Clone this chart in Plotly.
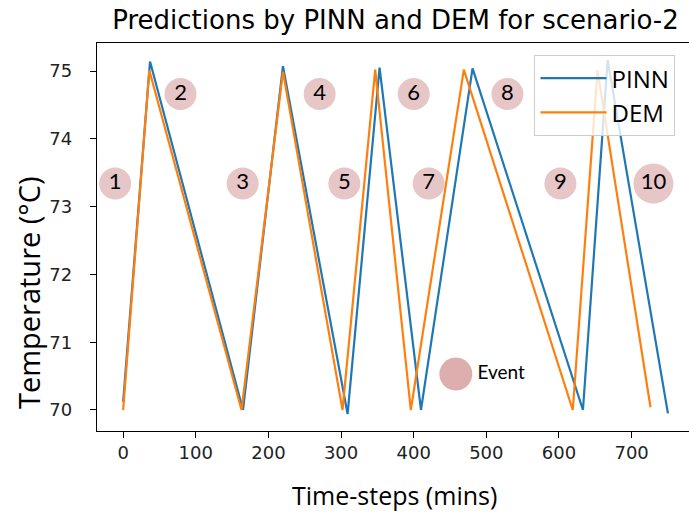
import plotly.graph_objects as go

# ---- data ----
pinn_t = [0, 37, 165, 220, 309, 353, 410, 481, 633, 667, 750]
pinn_temp = [70.12, 75.14, 70.0, 75.07, 69.94, 75.05, 70.0, 75.04, 70.0, 75.16, 69.95]

dem_t = [0, 36, 163, 220, 302, 347, 396, 469, 619, 653, 726]
dem_temp = [70.0, 75.01, 70.0, 74.99, 70.0, 75.02, 70.0, 75.02, 70.0, 75.01, 70.04]

event_t = [-11, 79, 164.5, 270.5, 304.5, 400, 420.6, 529, 602, 730]
event_temp = [73.34, 74.66, 73.34, 74.66, 73.34, 74.66, 73.34, 74.66, 73.34, 73.34]
event_labels = ["1", "2", "3", "4", "5", "6", "7", "8", "9", "10"]

event_key_t = [458]
event_key_temp = [70.53]
event_key_label = ["Event"]

x_ticks = [0, 100, 200, 300, 400, 500, 600, 700]
y_ticks = [70, 71, 72, 73, 74, 75]

BLUE = "#1f77b4"
ORANGE = "#ff7f0e"
EVENT_COLOR = "rgb(220,174,174)"

fig = go.Figure()

fig.add_trace(go.Scatter(x=pinn_t, y=pinn_temp, mode="lines", name="PINN",
                         line=dict(color=BLUE, width=2.2)))
fig.add_trace(go.Scatter(x=dem_t, y=dem_temp, mode="lines", name="DEM",
                         line=dict(color=ORANGE, width=2.2)))

fig.add_trace(go.Scatter(
    x=event_t, y=event_temp, mode="markers+text", text=event_labels,
    textposition="middle center",
    textfont=dict(family="Lato", size=22, color="black"),
    marker=dict(size=[32] * 9 + [40], color=EVENT_COLOR, line=dict(width=0)),
    showlegend=False, hoverinfo="skip"))

fig.add_trace(go.Scatter(
    x=event_key_t, y=event_key_temp, mode="markers+text", text=event_key_label,
    textposition="middle right",
    textfont=dict(family="Lato", size=19, color="black"),
    marker=dict(size=33, color=EVENT_COLOR, line=dict(width=0)),
    showlegend=False, hoverinfo="skip"))

axis_common = dict(
    showline=True, linecolor="black", linewidth=1.3,
    ticks="outside", ticklen=6, tickwidth=1.2, tickcolor="black",
    showgrid=False, zeroline=False,
    tickfont=dict(family="DejaVu Sans", size=18, color="#222"),
)

fig.update_xaxes(range=[-36, 779], tickvals=x_ticks, mirror=True,
                 ticklabelstandoff=-1, **axis_common)
fig.update_yaxes(range=[69.69, 75.413], tickvals=y_ticks, mirror=False,
                 ticklabelstandoff=14, **axis_common)

fig.update_layout(
    width=689, height=513,
    margin=dict(l=97, r=0, t=43, b=82),
    plot_bgcolor="white", paper_bgcolor="white",
    title=dict(text="Predictions by PINN and DEM for scenario-2",
               font=dict(family="DejaVu Sans", size=26, color="black"),
               x=0.574, xref="container", xanchor="center",
               y=0.961, yref="container", yanchor="middle"),
    legend=dict(x=0.739, y=0.969, xanchor="left", yanchor="top",
                itemwidth=66,
                bgcolor="rgba(255,255,255,0.8)", bordercolor="#cccccc",
                borderwidth=1, font=dict(family="Open Sans", size=24, color="black")),
    annotations=[
        dict(text="Temperature (°C)", xref="paper", yref="paper",
             x=-0.1166, y=0.358, textangle=-90, showarrow=False,
             xanchor="center", yanchor="middle",
             font=dict(family="Open Sans", size=29, color="black")),
        dict(text="Time-steps (mins)", xref="paper", yref="paper",
             x=(394 - 97) / 592, y=(431 - 495) / 388, showarrow=False,
             xanchor="center", yanchor="middle",
             font=dict(family="Open Sans", size=25, color="black")),
    ],
)

fig.write_html("out.html")
